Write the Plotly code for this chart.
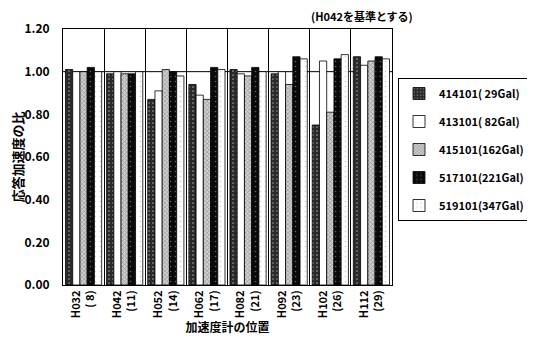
import plotly.graph_objects as go

categories = ["H032<br>( 8)", "H042<br>(11)", "H052<br>(14)", "H062<br>(17)",
              "H082<br>(21)", "H092<br>(23)", "H102<br>(26)", "H112<br>(29)"]
series_names = ["414101( 29Gal)", "413101( 82Gal)", "415101(162Gal)",
                "517101(221Gal)", "519101(347Gal)"]
s414101 = [1.01, 0.99, 0.87, 0.94, 1.01, 0.99, 0.75, 1.07]
s413101 = [1.00, 1.00, 0.91, 0.89, 0.99, 1.00, 1.05, 1.03]
s415101 = [1.00, 0.99, 1.01, 0.87, 0.98, 0.94, 0.81, 1.05]
s517101 = [1.02, 0.99, 1.00, 1.02, 1.02, 1.07, 1.06, 1.07]
s519101 = [1.00, 1.00, 0.98, 1.01, 1.00, 1.06, 1.08, 1.06]
y_ticks = [0.0, 0.2, 0.4, 0.6, 0.8, 1.0, 1.2]

FONT = "Noto Sans CJK JP"

styles = [
    dict(color="#3a3a3a", pattern=dict(shape=".", fgcolor="#ffffff", bgcolor="#2a2a2a", size=4, solidity=0.15)),
    dict(color="#ffffff", pattern=dict(shape="")),
    dict(color="#9a9a9a", pattern=dict(shape="x", fgcolor="#555555", bgcolor="#d0d0d0", size=3, solidity=0.4)),
    dict(color="#111111", pattern=dict(shape=".", fgcolor="#bbbbbb", bgcolor="#0a0a0a", size=5, solidity=0.08)),
    dict(color="#ffffff", pattern=dict(shape=".", fgcolor="#999999", bgcolor="#ffffff", size=5, solidity=0.08)),
]

data = [s414101, s413101, s415101, s517101, s519101]
fig = go.Figure()
for i, (name, vals, st) in enumerate(zip(series_names, data, styles)):
    fig.add_trace(go.Bar(
        x=categories, y=vals, name=name, legendgroup=str(i),
        marker=dict(color=st["color"], pattern=st["pattern"],
                    line=dict(color="#000000", width=0.8)),
    ))

fig.add_shape(type="line", xref="paper", yref="y", x0=0, x1=1, y0=1.0, y1=1.0,
              line=dict(color="#000000", width=1), layer="below")

# page body has an 8px default margin; size the figure to fit the window
OFF = 8
W, H = 535 - OFF, 341 - OFF
L, T = 63 - OFF, 29 - OFF
R = W - (392 - OFF)
B = H - (285 - OFF)
PW, PH = W - L - R, H - T - B

fig.update_layout(
    width=W, height=H,
    margin=dict(l=L, r=R, t=T, b=B, autoexpand=False),
    paper_bgcolor="white", plot_bgcolor="white",
    barmode="group", bargap=0.12, bargroupgap=0.0,
    font=dict(family=FONT, size=11, color="#000000"),
    showlegend=True,
    legend=dict(x=(398 - 63) / PW, y=1 - (78 - 29) / PH, xanchor="left", yanchor="top",
                bordercolor="#000000", borderwidth=1, bgcolor="white",
                font=dict(family=FONT, size=11, color="#000000", weight="bold"),
                tracegroupgap=9, itemwidth=30),
    annotations=[
        dict(text="(H042を基準とする)", xref="paper", yref="paper",
             x=(362 - 63) / PW, y=1 + (29 - 16) / PH, xanchor="center", yanchor="middle",
             showarrow=False, font=dict(family=FONT, size=11, weight="bold")),
    ],
)

fig.update_xaxes(
    tickangle=-90, tickson="boundaries", showgrid=True, gridcolor="#000000", gridwidth=1,
    showline=True, linecolor="#000000", linewidth=1, mirror=True, ticks="",
    tickfont=dict(family=FONT, size=11, weight="bold"),
    title=dict(text="加速度計の位置", font=dict(family=FONT, size=12, weight="bold"), standoff=4),
)
fig.update_yaxes(
    range=[0, 1.2], tickvals=y_ticks, tickformat=".2f", showgrid=False,
    showline=True, linecolor="#000000", linewidth=1, mirror=True, ticks="",
    tickfont=dict(family=FONT, size=12, weight="bold"), zeroline=False, ticklabelstandoff=10,
    title=dict(text="応答加速度の比", font=dict(family=FONT, size=13, weight="bold"), standoff=2),
)

fig.write_html("out.html")
